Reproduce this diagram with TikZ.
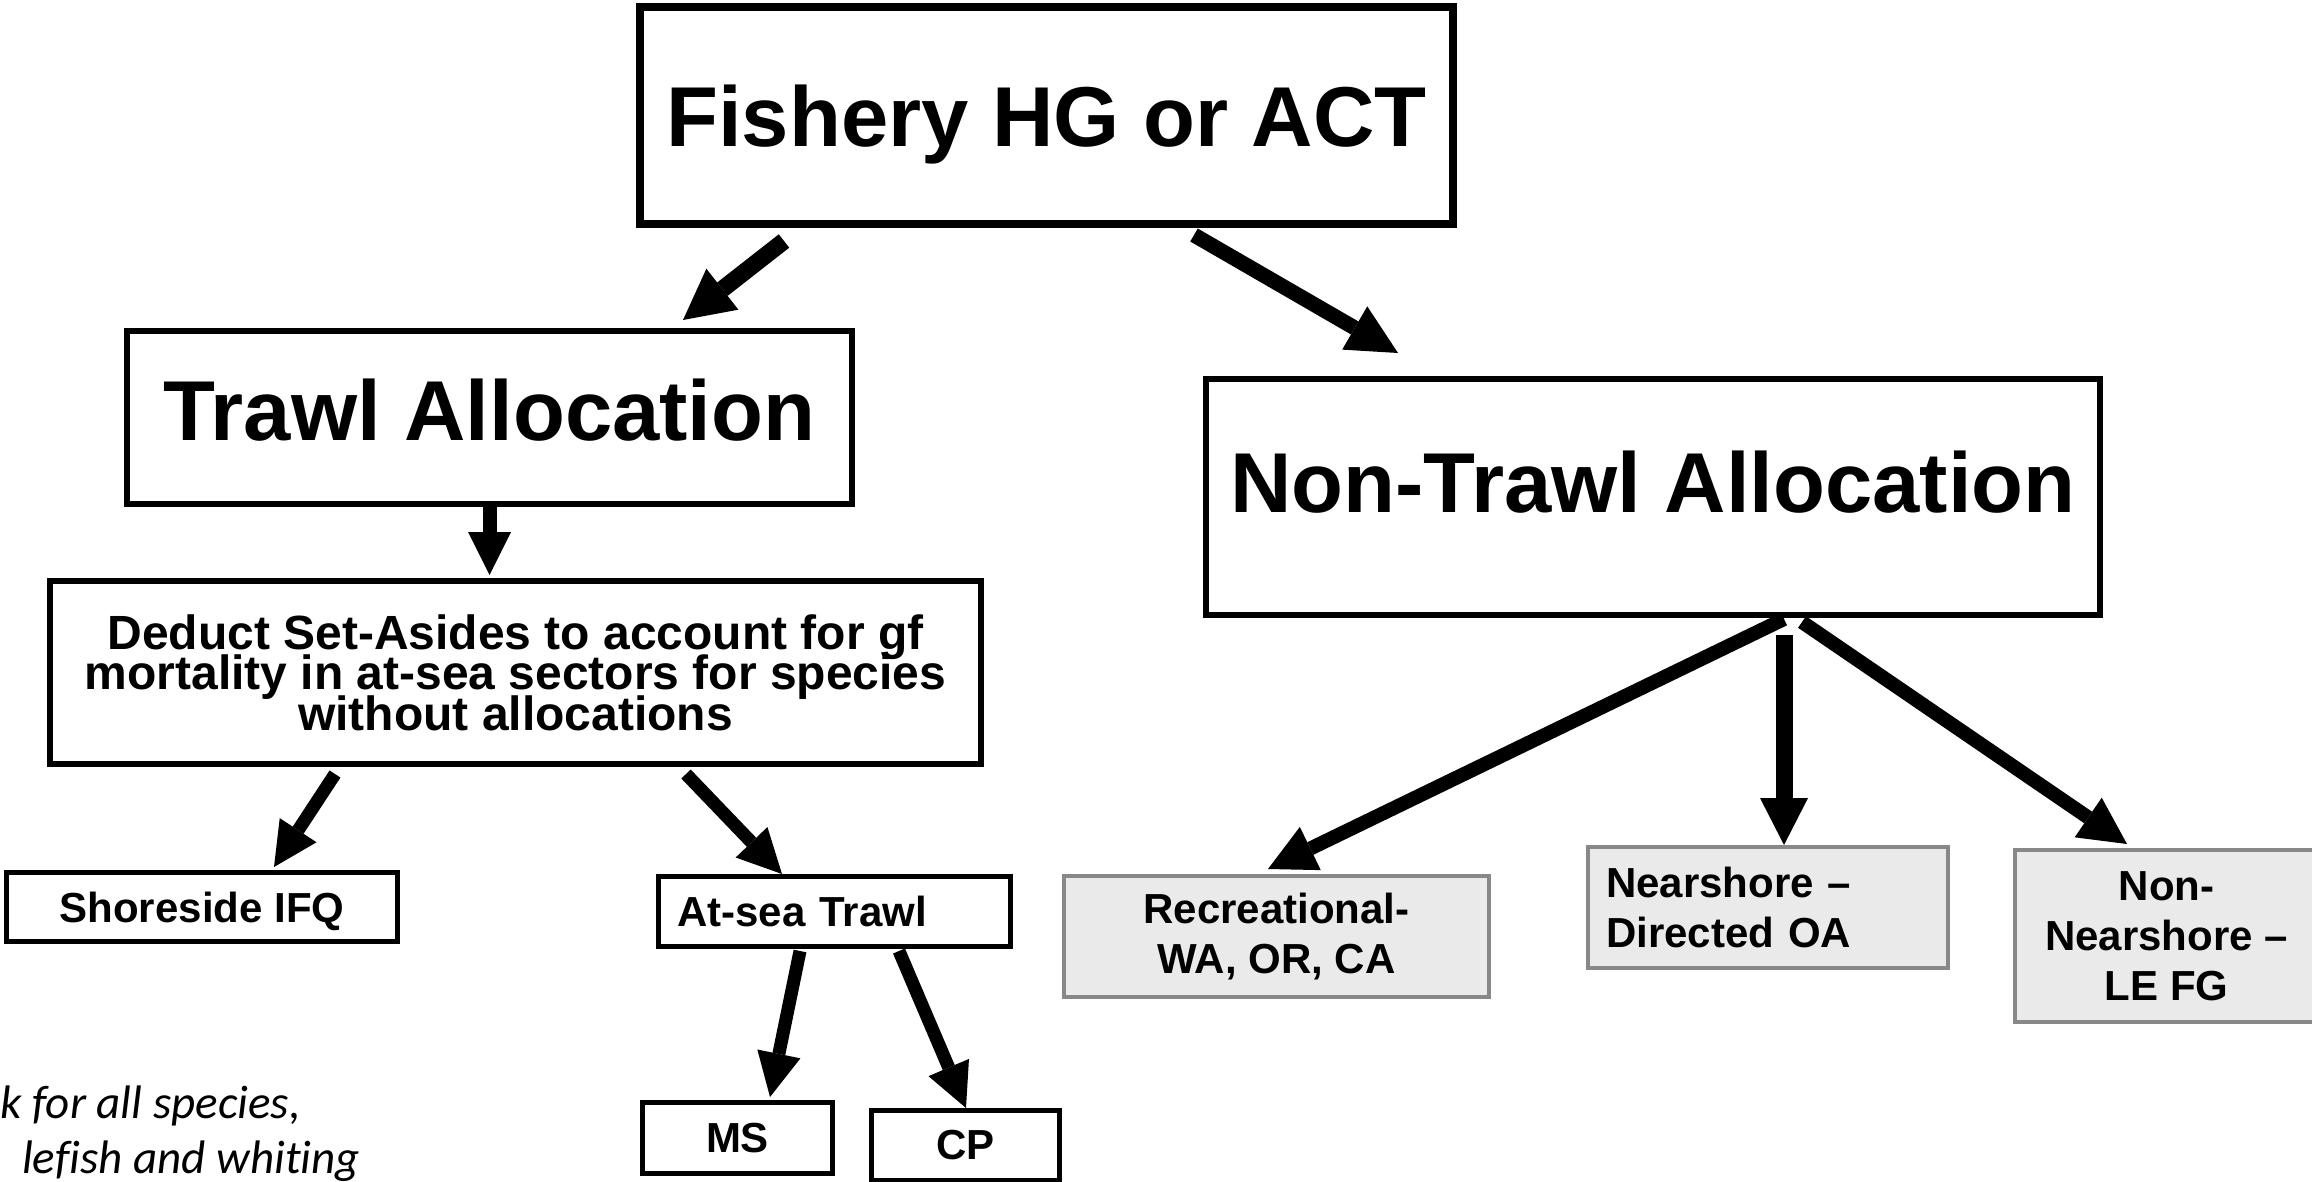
\documentclass[tikz,border=0pt]{standalone}
\usepackage{fontspec}
\setmainfont{Liberation Sans}
\newfontfamily\notefont[Ligatures=NoCommon]{Carlito}
\usetikzlibrary{arrows.meta,calc}
\definecolor{boxgray}{HTML}{EAEAEA}
\definecolor{edgegray}{HTML}{888888}
\newcommand\tightlines{\lineskiplimit=-200pt\relax}
\begin{document}
\begin{tikzpicture}[x=1pt,y=-1pt,
  bx/.style={draw,rectangle,outer sep=0pt,inner sep=0pt,align=center},
  bigbox/.style={bx,line width=6pt,font=\fontsize{85}{100}\selectfont\bfseries},
  smallbox/.style={bx,line width=5pt,font=\fontsize{42}{50}\selectfont\bfseries,text depth=0pt},
  graybox/.style={bx,draw=edgegray,fill=boxgray,line width=4pt,font=\fontsize{42}{50}\selectfont\bfseries},
  notetext/.style={anchor=base west,inner sep=0pt,font={\notefont\itshape\fontsize{47}{56}\selectfont}},
  arr/.style={line width=14pt,-{Triangle[width=48pt,length=47pt,line width=0pt]}},
  arrsm/.style={line width=13pt,-{Triangle[width=44pt,length=44pt,line width=0pt]}}
]
\useasboundingbox (0,0) rectangle (2312,1181);
\clip (0,0) rectangle (2312,1181);

% boxes
\node[bigbox,line width=8pt,minimum width=813pt,minimum height=217pt,text depth=0pt] (fish) at (1046.5,115.5) {Fishery HG or ACT};
\node[bigbox,minimum width=725pt,minimum height=173pt,text depth=15pt] (trawl) at (489.5,417.5) {Trawl Allocation};
\node[bigbox,minimum width=894pt,minimum height=236pt,text depth=30pt] (nontrawl) at (1653,497) {Non-Trawl Allocation};
\node[bx,line width=6pt,minimum width=931pt,minimum height=183pt,font={\fontsize{48}{40.5}\selectfont\bfseries\tightlines}] (deduct) at (515.5,672.5) {Deduct Set-Asides to account for gf\\mortality in at-sea sectors for species\\without allocations};
\node[smallbox,minimum width=391pt,minimum height=69pt] (shore) at (202,907) {Shoreside IFQ};
\node[smallbox,minimum width=352pt,minimum height=70pt,text width=314pt,align=left] (atsea) at (834,911) {At-sea Trawl};
\node[smallbox,minimum width=190pt,minimum height=71pt] (ms) at (737.5,1138) {MS};
\node[smallbox,minimum width=188pt,minimum height=70pt] (cp) at (965.5,1145) {CP};
\node[graybox,minimum width=425pt,minimum height=121pt] (rec) at (1276.5,936.5) {Recreational-\\WA, OR, CA};
\node[graybox,minimum width=360pt,minimum height=121pt,text width=324pt,align=left] (near) at (1768,907.5) {Nearshore –\\Directed OA};
\node[graybox,minimum width=303pt,minimum height=172pt] (nonnear) at (2166.5,936) {Non-\\Nearshore –\\LE FG};

% note text (cut at left edge)
\node[notetext] (note1) at (0,1118) {k for all species,};
\node[notetext] (note2) at (22,1173) {lefish and whiting};

% arrows
\draw[arr,line width=17pt,-{Triangle[width=52pt,length=50pt,line width=0pt]}] ($(fish.south)+(-262.5,17)$) -- ($(trawl.north)+(193.5,-11)$);
\draw[arr,line width=15pt,-{Triangle[width=50pt,length=50pt,line width=0pt]}] ($(fish.south)+(147.5,11)$) -- ($(nontrawl.north)+(-255,-26)$);
\draw[arr,-{Triangle[width=43pt,length=43pt,line width=0pt]}] ($(trawl.south)+(0,3)$) -- ($(deduct.north)+(-26,-6)$);
\draw[arrsm] ($(deduct.south)+(-180.5,10)$) -- ($(shore.north)+(72,-5.5)$);
\draw[arrsm] ($(deduct.south)+(170.5,10)$) -- ($(atsea.north)+(-52,-2)$);
\draw[arrsm] ($(atsea.south)+(-34,5)$) -- ($(ms.north)+(32.5,-5.5)$);
\draw[arrsm] ($(atsea.south)+(65,5)$) -- ($(cp.north)+(0.5,-2)$);
\draw[arr] ($(nontrawl.south)+(131,4)$) -- ($(rec.north)+(-8.5,-7)$);
\draw[arr,line width=17pt,-{Triangle[width=48pt,length=47pt,line width=0pt]}] ($(nontrawl.south)+(131,20)$) -- ($(near.north)+(16,-2)$);
\draw[arr] ($(nontrawl.south)+(149,7)$) -- ($(nonnear.north)+(-39.5,-6)$);
\end{tikzpicture}
\end{document}
